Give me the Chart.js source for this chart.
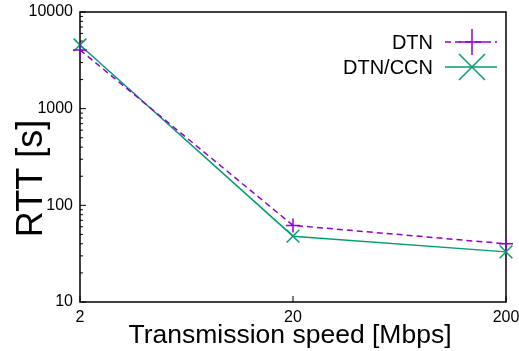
<!DOCTYPE html>
<html>
<head>
<meta charset="utf-8">
<script src="https://cdn.jsdelivr.net/npm/chart.js@4.4.1/dist/chart.umd.min.js"></script>
<style>
html, body { margin: 0; padding: 0; background: #fff; }
</style>
</head>
<body>
<canvas id="chart_rtt" width="519" height="351"></canvas>
<script>
const speeds = [2, 20, 200];
const rttDtn = [4050, 62, 40];
const rttDtnCcn = [4560, 48, 33];
const xTickValues = [2, 20, 200];
const yTickValues = [10, 100, 1000, 10000];
const seriesNames = ['DTN', 'DTN/CCN'];
const seriesColors = ['#9400d3', '#009e73'];
const xTitle = 'Transmission speed [Mbps]';
const yTitle = 'RTT [s]';

const FONT = '"Liberation Sans", Arial, sans-serif';

function toPoints(values) {
    return speeds.map((s, i) => ({ x: s, y: values[i] }));
}

// frame + inward tics, gnuplot style
const frameTics = {
    id: 'frameTics',
    beforeDatasetsDraw(chart) {
        const { ctx, chartArea: a, scales } = chart;
        ctx.save();
        ctx.strokeStyle = '#000';
        ctx.lineWidth = 1.5;
        ctx.strokeRect(a.left, a.top, a.right - a.left, a.bottom - a.top);

        ctx.lineWidth = 1;
        ctx.beginPath();
        yTickValues.forEach((v, i) => {
            const y = scales.y.getPixelForValue(v);
            ctx.moveTo(a.left, y);
            ctx.lineTo(a.left + 6, y);
            if (i < yTickValues.length - 1) {
                for (let k = 2; k <= 9; k++) {
                    const ym = scales.y.getPixelForValue(v * k);
                    ctx.moveTo(a.left, ym);
                    ctx.lineTo(a.left + 3, ym);
                }
            }
        });
        xTickValues.forEach(v => {
            const x = scales.x.getPixelForValue(v);
            ctx.moveTo(x, a.bottom);
            ctx.lineTo(x, a.bottom - 6);
        });
        ctx.stroke();
        ctx.restore();
    },
    afterDraw(chart) {
        const { ctx } = chart;
        ctx.save();
        ctx.fillStyle = '#000';

        // axis titles
        ctx.font = '26.5px ' + FONT;
        ctx.textAlign = 'center';
        ctx.textBaseline = 'alphabetic';
        ctx.fillText(xTitle, 290, 343);
        ctx.save();
        ctx.translate(42, 178.5);
        ctx.rotate(-Math.PI / 2);
        ctx.font = '36px ' + FONT;
        ctx.fillText(yTitle, 0, 0);
        ctx.restore();

        // key
        ctx.font = '20px ' + FONT;
        ctx.textAlign = 'right';
        ctx.textBaseline = 'middle';
        const rows = [42, 67];
        seriesNames.forEach((name, i) => {
            const y = rows[i];
            ctx.fillText(name, 433, y + 1);
            ctx.strokeStyle = seriesColors[i];
            ctx.lineWidth = 1.5;
            ctx.setLineDash(i === 0 ? [6, 4] : []);
            ctx.beginPath();
            ctx.moveTo(445, y);
            ctx.lineTo(497, y);
            ctx.stroke();
            ctx.setLineDash([]);
            ctx.beginPath();
            if (i === 0) {
                ctx.moveTo(472 - 13, y); ctx.lineTo(472 + 13, y);
                ctx.moveTo(472, y - 13); ctx.lineTo(472, y + 13);
            } else {
                ctx.moveTo(472 - 13, y - 13); ctx.lineTo(472 + 13, y + 13);
                ctx.moveTo(472 - 13, y + 13); ctx.lineTo(472 + 13, y - 13);
            }
            ctx.stroke();
        });
        ctx.restore();
    }
};

const ctx = document.getElementById('chart_rtt').getContext('2d');

new Chart(ctx, {
    type: 'line',
    data: {
        datasets: [{
            label: seriesNames[0],
            data: toPoints(rttDtn),
            borderColor: seriesColors[0],
            borderWidth: 1.5,
            borderDash: [6, 4],
            pointStyle: 'cross',
            pointRadius: 7,
            pointBorderColor: seriesColors[0],
            pointBorderWidth: 1.5,
            fill: false,
            tension: 0,
            clip: false
        }, {
            label: seriesNames[1],
            data: toPoints(rttDtnCcn),
            borderColor: seriesColors[1],
            borderWidth: 1.5,
            pointStyle: 'crossRot',
            pointRadius: 9,
            pointBorderColor: seriesColors[1],
            pointBorderWidth: 1.5,
            fill: false,
            tension: 0,
            clip: false
        }]
    },
    options: {
        responsive: false,
        animation: false,
        devicePixelRatio: 1,
        layout: { padding: { top: 12, right: 13, left: 0, bottom: 0 } },
        scales: {
            x: {
                type: 'logarithmic',
                min: 2,
                max: 200,
                grid: { display: false, drawTicks: false },
                border: { display: false },
                afterBuildTicks: scale => { scale.ticks = xTickValues.map(v => ({ value: v })); },
                afterFit: scale => { scale.height = 49; scale.paddingLeft = 0; scale.paddingRight = 0; },
                ticks: {
                    color: '#000',
                    font: { family: FONT, size: 16 },
                    padding: 6,
                    maxRotation: 0,
                    autoSkip: false,
                    callback: v => String(v)
                },
                title: { display: false }
            },
            y: {
                type: 'logarithmic',
                min: 10,
                max: 10000,
                grid: { display: false, drawTicks: false },
                border: { display: false },
                afterBuildTicks: scale => { scale.ticks = yTickValues.map(v => ({ value: v })); },
                afterFit: scale => { scale.width = 80; scale.paddingTop = 0; scale.paddingBottom = 0; },
                ticks: {
                    color: '#000',
                    font: { family: FONT, size: 16 },
                    padding: 7,
                    autoSkip: false,
                    callback: v => String(v)
                },
                title: { display: false }
            }
        },
        plugins: {
            legend: { display: false },
            tooltip: { enabled: false }
        }
    },
    plugins: [frameTics]
});
</script>
</body>
</html>
